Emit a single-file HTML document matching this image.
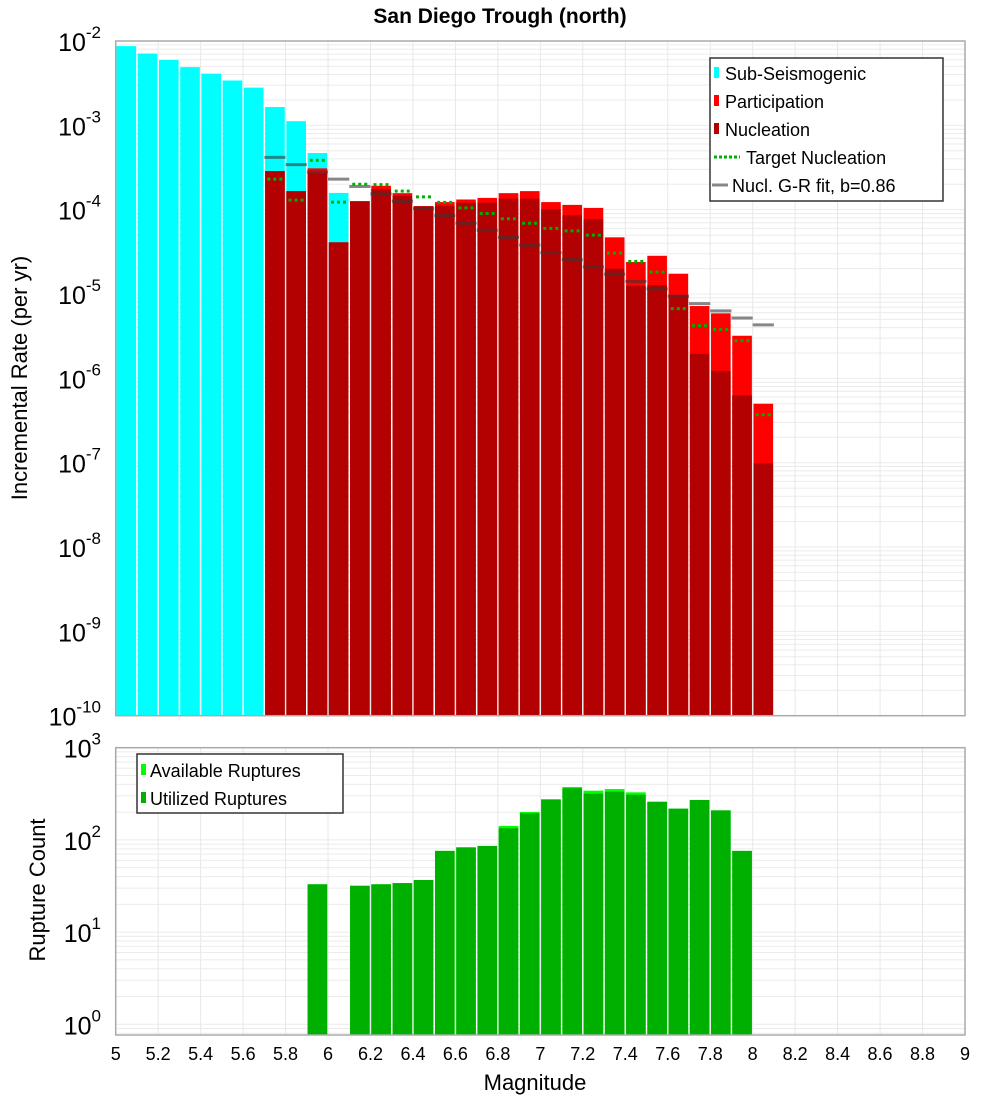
<!DOCTYPE html>
<html><head><meta charset="utf-8"><style>
body{margin:0;background:#fff;position:relative;}
svg{display:block;font-family:"Liberation Sans","DejaVu Sans",sans-serif;}
</style></head><body>
<svg id="chart" width="1000" height="1100" viewBox="0 0 1000 1100">
<text x="500" y="23" text-anchor="middle" font-size="21" font-weight="bold">San Diego Trough (north)</text>
<g id="topPlot"></g>
<g id="botPlot"></g>
</svg>
<script>
// ---- data ----
const subMags = [5.05,5.15,5.25,5.35,5.45,5.55,5.65,5.75,5.85,5.95,6.05];
const subRates = [8.7e-3,7.1e-3,5.95e-3,4.9e-3,4.1e-3,3.4e-3,2.8e-3,1.65e-3,1.12e-3,4.7e-4,1.58e-4];
const supraMags = [5.75,5.85,5.95,6.05,6.15,6.25,6.35,6.45,6.55,6.65,6.75,6.85,6.95,7.05,7.15,7.25,7.35,7.45,7.55,7.65,7.75,7.85,7.95,8.05];
const partRates = [2.87e-4,1.66e-4,3.09e-4,4.1e-5,1.26e-4,1.92e-4,1.57e-4,1.1e-4,1.23e-4,1.32e-4,1.38e-4,1.57e-4,1.66e-4,1.23e-4,1.14e-4,1.05e-4,4.7e-5,2.4e-5,2.84e-5,1.74e-5,7.2e-6,5.9e-6,3.2e-6,5.0e-7];
const nuclRates = [2.87e-4,1.66e-4,2.7e-4,4.1e-5,1.26e-4,1.75e-4,1.46e-4,1.1e-4,1.11e-4,1.21e-4,1.21e-4,1.35e-4,1.35e-4,1.01e-4,8.6e-5,7.7e-5,2.0e-5,1.25e-5,1.28e-5,9.7e-6,1.95e-6,1.22e-6,6.3e-7,9.8e-8];
const targetRates = [2.3e-4,1.3e-4,3.85e-4,1.23e-4,2.0e-4,1.98e-4,1.66e-4,1.42e-4,1.22e-4,1.05e-4,9.0e-5,7.8e-5,6.9e-5,6.0e-5,5.6e-5,5.0e-5,3.05e-5,2.44e-5,1.82e-5,6.7e-6,4.2e-6,3.8e-6,2.8e-6,3.7e-7];
const grRates = [4.17e-4,3.42e-4,2.80e-4,2.30e-4,1.88e-4,1.54e-4,1.26e-4,1.03e-4,8.5e-5,6.9e-5,5.7e-5,4.7e-5,3.8e-5,3.1e-5,2.56e-5,2.10e-5,1.72e-5,1.41e-5,1.15e-5,9.4e-6,7.7e-6,6.3e-6,5.2e-6,4.3e-6];
const countMags = [5.95,6.15,6.25,6.35,6.45,6.55,6.65,6.75,6.85,6.95,7.05,7.15,7.25,7.35,7.45,7.55,7.65,7.75,7.85,7.95];
const availCounts = [33,31.8,33,34,36.7,76,83,86,141.6,201,275,375,342,356,328,259,218,271,209,76];
const usedCounts = [33,31.8,33,34,36.7,76,83,86,133.6,194.4,275,363,317,333,309,259,218,271,209,76];
const xTicks = [5,5.2,5.4,5.6,5.8,6,6.2,6.4,6.6,6.8,7,7.2,7.4,7.6,7.8,8,8.2,8.4,8.6,8.8,9];
const xTickLabels = ["5","5.2","5.4","5.6","5.8","6","6.2","6.4","6.6","6.8","7","7.2","7.4","7.6","7.8","8","8.2","8.4","8.6","8.8","9"];
const topExps = [-2,-3,-4,-5,-6,-7,-8,-9,-10];
const botExps = [3,2,1,0];

// ---- axes ----
const NS="http://www.w3.org/2000/svg";
const L=115.7, R=965, T1=41, B1=715.7, T2=747.7, B2=1035;
const xs = m => L + (m-5)*(R-L)/4;
const yTop = v => T1 + (-2 - Math.log10(v))*(B1-T1)/8;
const yBot = v => T2 + (3 - Math.log10(v))*92.2;
const binW = 0.1;
function el(tag, attrs, parent){const e=document.createElementNS(NS,tag);for(const k in attrs)e.setAttribute(k,attrs[k]);parent.appendChild(e);return e;}
const gTop=document.getElementById('topPlot'), gBot=document.getElementById('botPlot');

function grid(g, T, B, yf, lo, hi){
  el('rect',{x:L,y:T,width:R-L,height:B-T,fill:'#fff'},g);
  for(let e=lo;e<hi;e++){for(let k=1;k<10;k++){const v=k*Math.pow(10,e);const y=yf(v);if(y<T||y>B)continue;
    const ln=el('line',{x1:L,x2:R,y1:y,y2:y,stroke:'#ebebeb','stroke-width':1},g);
    
    }}
  xTicks.forEach(t=>{const ln=el('line',{x1:xs(t),x2:xs(t),y1:T,y2:B,stroke:'#e8e8e8','stroke-width':1},g);
    
    });
}
grid(gTop,T1,B1,yTop,-10,-1);
grid(gBot,T2,B2,yBot,-1,3);

function bar(g,m,v,yf,B,color,name){
  const x0=xs(m-binW/2)+0.8, x1=xs(m+binW/2)-0.8, y=Math.max(yf(v),0);
  const r=el('rect',{x:x0,y:y,width:x1-x0,height:B-y,fill:color},g);
  
  
}
subMags.forEach((m,i)=>bar(gTop,m,subRates[i],yTop,B1,'#00ffff','sub-seismogenic-bar'));
supraMags.forEach((m,i)=>bar(gTop,m,partRates[i],yTop,B1,'#ff0000','participation-bar'));
supraMags.forEach((m,i)=>bar(gTop,m,nuclRates[i],yTop,B1,'#b30000','nucleation-bar'));
supraMags.forEach((m,i)=>{const y=yTop(grRates[i]);
  const ln=el('line',{x1:xs(m-binW/2),x2:xs(m+binW/2),y1:y,y2:y,stroke:'rgba(55,55,55,0.6)','stroke-width':3},gTop);
  
  });
supraMags.forEach((m,i)=>{const y=yTop(targetRates[i]);
  const ln=el('line',{x1:xs(m-binW/2)+3,x2:xs(m+binW/2)-2,y1:y,y2:y,stroke:'#00b000','stroke-width':3,'stroke-dasharray':'3,3'},gTop);
  
  });
countMags.forEach((m,i)=>bar(gBot,m,availCounts[i],yBot,B2,'#00ff00','available-ruptures-bar'));
countMags.forEach((m,i)=>bar(gBot,m,usedCounts[i],yBot,B2,'#00b000','utilized-ruptures-bar'));

[[gTop,T1,B1],[gBot,T2,B2]].forEach(([g,T,B])=>{const r=el('rect',{x:L,y:T,width:R-L,height:B-T,fill:'none',stroke:'#aaa','stroke-width':1.5},g);
  
  });

function ylab(g,y,exp){
  const t=el('text',{x:101,y:y+10,'text-anchor':'end','font-size':25},g);
  
  
  t.appendChild(document.createTextNode('10'));
  const s=el('tspan',{dy:-13,'font-size':17},t); s.textContent=String(exp);
}
topExps.forEach(e=>ylab(gTop,yTop(Math.pow(10,e)),e));
botExps.forEach(e=>ylab(gBot,yBot(Math.pow(10,e)),e));
xTicks.forEach((t,i)=>{const tx=el('text',{x:xs(t),y:1060,'text-anchor':'middle','font-size':18},gBot);
  
  
  tx.textContent=xTickLabels[i];});
</script>
<svg width="1000" height="1100" style="position:absolute;left:0;top:0;font-family:'Liberation Sans','DejaVu Sans',sans-serif;pointer-events:none">
<text x="535" y="1090" text-anchor="middle" font-size="22">Magnitude</text>
<text transform="translate(27,378) rotate(-90)" text-anchor="middle" font-size="22">Incremental Rate (per yr)</text>
<text transform="translate(45,890) rotate(-90)" text-anchor="middle" font-size="22">Rupture Count</text>
<g>
<rect x="710" y="58" width="233" height="143" fill="#fff" stroke="#333" stroke-width="1.5"/>
<rect x="714" y="67" width="5" height="11" fill="#00ffff"/>
<text x="725" y="80" font-size="18">Sub-Seismogenic</text>
<rect x="714" y="95" width="5" height="11" fill="#ff0000"/>
<text x="725" y="108" font-size="18">Participation</text>
<rect x="714" y="123" width="5" height="11" fill="#b30000"/>
<text x="725" y="136" font-size="18">Nucleation</text>
<line x1="714" x2="740" y1="157" y2="157" stroke="#00b000" stroke-width="3" stroke-dasharray="3,2"/>
<text x="746" y="164" font-size="18">Target Nucleation</text>
<line x1="712" x2="728" y1="185" y2="185" stroke="#888" stroke-width="3"/>
<text x="732" y="192" font-size="18">Nucl. G-R fit, b=0.86</text>
</g>
<g>
<rect x="137" y="754" width="206" height="59" fill="#fff" stroke="#333" stroke-width="1.5"/>
<rect x="141" y="764" width="5" height="11" fill="#00ff00"/>
<text x="150" y="777" font-size="18">Available Ruptures</text>
<rect x="141" y="792" width="5" height="11" fill="#00b000"/>
<text x="150" y="805" font-size="18">Utilized Ruptures</text>
</g>
</svg>
</body></html>
